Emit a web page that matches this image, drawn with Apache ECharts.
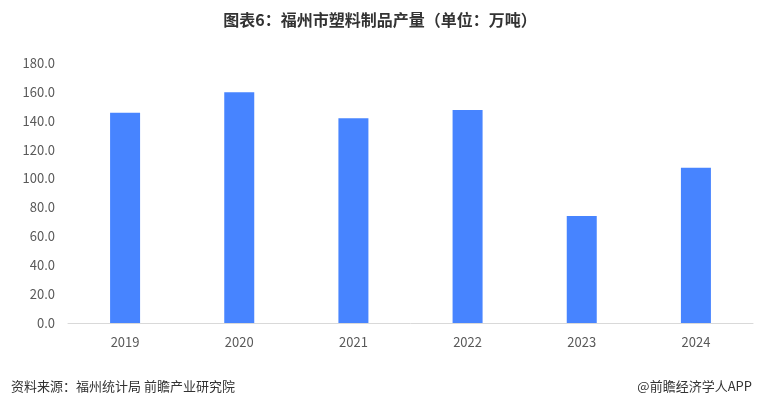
<!DOCTYPE html>
<html>
<head>
<meta charset="utf-8">
<script src="https://cdn.jsdelivr.net/npm/echarts@6/dist/echarts.min.js"></script>
<style>
  html, body { margin: 0; padding: 0; background: #fff; }
  #chart { width: 760px; height: 406px; }
</style>
</head>
<body>
<div id="chart"></div>
<script>
var years = ["2019", "2020", "2021", "2022", "2023", "2024"];
var output = [145.6, 159.7, 141.7, 147.5, 74.1, 107.5];
var yTicks = { min: 0, max: 180, interval: 20 };

var fontCN = "'Microsoft YaHei', 'Noto Sans CJK SC', sans-serif";
var chartDom = echarts.init(document.getElementById("chart"));

var option = {
  backgroundColor: "#fff",
  textStyle: { fontFamily: fontCN },
  title: [
    {
      text: "图表6：福州市塑料制品产量（单位：万吨）",
      left: "center",
      top: 7,
      textStyle: { fontSize: 16, fontWeight: "bold", color: "#333", fontFamily: fontCN },
    },
    {
      text: "资料来源：福州统计局 前瞻产业研究院",
      left: 6,
      top: 375,
      textStyle: { fontSize: 13, fontWeight: "normal", color: "#333", fontFamily: fontCN },
    },
    {
      text: "@前瞻经济学人APP",
      right: 3,
      top: 375,
      textStyle: { fontSize: 13, fontWeight: "normal", color: "#333", fontFamily: fontCN },
    },
  ],
  grid: {
    left: 68,
    right: 7,
    top: 63,
    bottom: 83,
  },
  xAxis: {
    type: "category",
    data: years,
    axisTick: { show: false },
    axisLine: { lineStyle: { color: "#d9d9d9" } },
    axisLabel: { color: "#595959", fontSize: 13, margin: 13 },
  },
  yAxis: {
    type: "value",
    min: yTicks.min,
    max: yTicks.max,
    interval: yTicks.interval,
    splitLine: { show: false },
    axisLine: { show: false },
    axisTick: { show: false },
    axisLabel: {
      color: "#595959",
      fontSize: 13,
      margin: 13,
      formatter: function (v) {
        return v.toFixed(1);
      },
    },
  },
  series: [
    {
      name: "塑料制品产量",
      type: "bar",
      data: output,
      barWidth: 30,
      itemStyle: { color: "#4784ff" },
    },
  ],
};
chartDom.setOption(option);
</script>
</body>
</html>
